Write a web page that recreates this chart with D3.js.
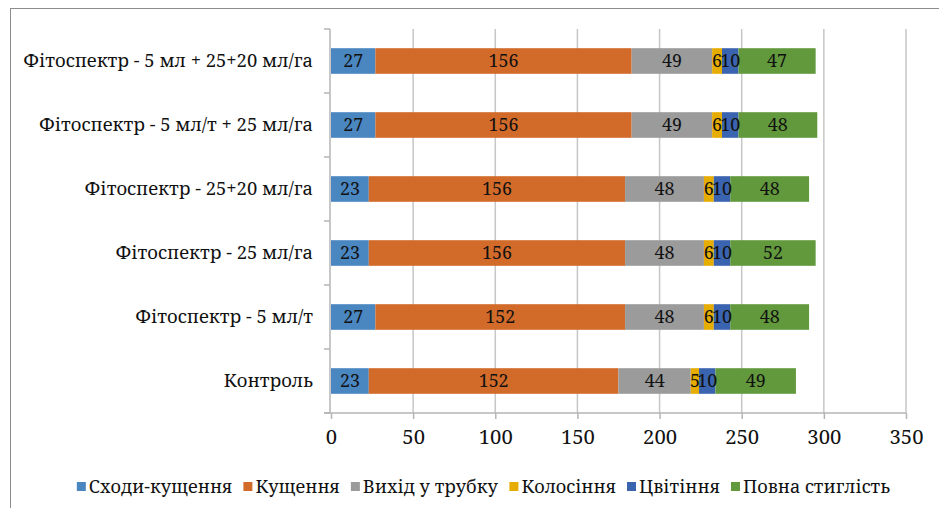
<!DOCTYPE html>
<html>
<head>
<meta charset="utf-8">
<script src="https://cdn.jsdelivr.net/npm/d3@7/dist/d3.min.js"></script>
<style>
  html, body { margin: 0; padding: 0; background: #fff; }
  svg { display: block; }
</style>
</head>
<body>
<svg id="chart" width="939" height="508"></svg>
<script>
// Variants, top to bottom
const categories = [
  "Фітоспектр - 5 мл + 25+20 мл/га",
  "Фітоспектр - 5 мл/т + 25 мл/га",
  "Фітоспектр - 25+20 мл/га",
  "Фітоспектр - 25 мл/га",
  "Фітоспектр - 5 мл/т",
  "Контроль"
];
// Phase names (stack order)
const seriesNames = ["Сходи-кущення", "Кущення", "Вихід у трубку", "Колосіння", "Цвітіння", "Повна стиглість"];
// Duration of each phase, days (one array per phase, in category order)
const shodyKushchennia = [27, 27, 23, 23, 27, 23];
const kushchennia      = [156, 156, 156, 156, 152, 152];
const vykhidUTrubku    = [49, 49, 48, 48, 48, 44];
const kolosinnia       = [6, 6, 6, 6, 6, 5];
const tsvitinnia       = [10, 10, 10, 10, 10, 10];
const povnaStyglist    = [47, 48, 48, 52, 48, 49];
const tickValues = [0, 50, 100, 150, 200, 250, 300, 350];
const colors = ["#4a86c0", "#d26a2a", "#9b9b9b", "#e6ac00", "#3b64b0", "#62993c"];

(function draw() {
  const serif = "'Noto Serif', 'DejaVu Serif', serif";
  const svg = d3.select("#chart");

  // font size that makes a string span the wanted width
  function fitSize(str, wanted) {
    const probe = svg.append("text").attr("font-family", serif).attr("font-size", 20).text(str);
    const w = probe.node().getComputedTextLength();
    probe.remove();
    return 20 * wanted / w;
  }
  const catSize = fitSize(categories[0], 290);
  const tickSize = fitSize("350", 34);
  const valSize = fitSize("156", 30);

  const seriesValues = [shodyKushchennia, kushchennia, vykhidUTrubku, kolosinnia, tsvitinnia, povnaStyglist];
  const rows = categories.map((c, i) => {
    const r = { category: c };
    seriesNames.forEach((s, j) => r[s] = seriesValues[j][i]);
    return r;
  });
  const stacked = d3.stack().keys(seriesNames)(rows);

  // chart frame
  svg.append("rect")
    .attr("x", 10.5).attr("y", 8.5)
    .attr("width", 960).attr("height", 520)
    .attr("fill", "none").attr("stroke", "#8c8c8c").attr("stroke-width", 1);

  const pLeft = 331, pRight = 906, pTop = 29, pBottom = 413;
  const x = d3.scaleLinear().domain([0, 350]).range([pLeft, pRight]);
  const y = d3.scaleBand().domain(categories).range([pTop, pBottom]).paddingInner(0.6).paddingOuter(0.3);

  // vertical gridlines
  svg.append("g").selectAll("line")
    .data(tickValues.filter(v => v > 0))
    .join("line")
    .attr("x1", d => x(d)).attr("x2", d => x(d))
    .attr("y1", pTop).attr("y2", pBottom)
    .attr("stroke", "#c6c6c6").attr("stroke-width", 1.5);

  // value axis
  const xAxis = svg.append("g")
    .attr("transform", `translate(0,${pBottom})`)
    .call(d3.axisBottom(x).tickValues(tickValues).tickSize(6).tickPadding(11).tickFormat(d3.format("d")));
  xAxis.attr("font-family", serif).attr("font-size", tickSize);
  xAxis.select(".domain").remove();
  xAxis.selectAll(".tick line").attr("stroke", "#b4b4b4").attr("stroke-width", 1.5);
  xAxis.selectAll(".tick text").attr("fill", "#111");
  svg.append("line")
    .attr("x1", pLeft - 7).attr("x2", pRight)
    .attr("y1", pBottom).attr("y2", pBottom)
    .attr("stroke", "#b4b4b4").attr("stroke-width", 1.5);

  // category axis
  svg.append("line")
    .attr("x1", pLeft - 1).attr("x2", pLeft - 1)
    .attr("y1", pTop).attr("y2", pBottom)
    .attr("stroke", "#b4b4b4").attr("stroke-width", 1.5);
  const boundaries = d3.range(categories.length + 1).map(i => pTop + i * (pBottom - pTop) / categories.length);
  svg.append("g").selectAll("line")
    .data(boundaries)
    .join("line")
    .attr("x1", pLeft - 7).attr("x2", pLeft - 1)
    .attr("y1", d => d).attr("y2", d => d)
    .attr("stroke", "#b4b4b4").attr("stroke-width", 1.5);

  svg.append("g").selectAll("text")
    .data(categories)
    .join("text")
    .attr("x", 313)
    .attr("y", d => y(d) + y.bandwidth() / 2)
    .attr("dy", "0.35em")
    .attr("text-anchor", "end")
    .attr("font-family", serif)
    .attr("font-size", catSize)
    .attr("fill", "#111")
    .text(d => d);

  // stacked bars
  const layers = svg.append("g").selectAll("g")
    .data(stacked)
    .join("g")
    .attr("fill", (d, i) => colors[i]);
  layers.selectAll("rect")
    .data(d => d)
    .join("rect")
    .attr("x", d => x(d[0]))
    .attr("y", d => y(d.data.category))
    .attr("width", d => x(d[1]) - x(d[0]))
    .attr("height", y.bandwidth());

  // data labels
  const labels = svg.append("g");
  stacked.forEach(layer => {
    labels.append("g").selectAll("text")
      .data(layer)
      .join("text")
      .attr("x", d => (x(d[0]) + x(d[1])) / 2)
      .attr("y", d => y(d.data.category) + y.bandwidth() / 2)
      .attr("dy", "0.35em")
      .attr("text-anchor", "middle")
      .attr("font-family", serif)
      .attr("font-size", valSize)
      .attr("fill", "#111")
      .text(d => d[1] - d[0]);
  });

  // legend
  const legendSize = fitSize(seriesNames.join(""), 813 - 6 * 12 - 5 * 11);
  const legend = svg.append("g").attr("font-size", legendSize).attr("font-family", serif);
  const items = legend.selectAll("g").data(seriesNames).join("g");
  items.append("rect").attr("width", 9).attr("height", 9).attr("y", -5).attr("fill", (d, i) => colors[i]);
  items.append("text").attr("x", 12).attr("dy", "0.35em").attr("fill", "#111").text(d => d);
  let cx = 0;
  const offsets = [];
  items.each(function () {
    const w = this.getBBox().width;
    offsets.push(cx);
    cx += w + 11;
  });
  const total = cx - 11;
  const startX = (77 + 890) / 2 - total / 2;
  items.attr("transform", (d, i) => `translate(${startX + offsets[i]},487)`);
})();
</script>
</body>
</html>
